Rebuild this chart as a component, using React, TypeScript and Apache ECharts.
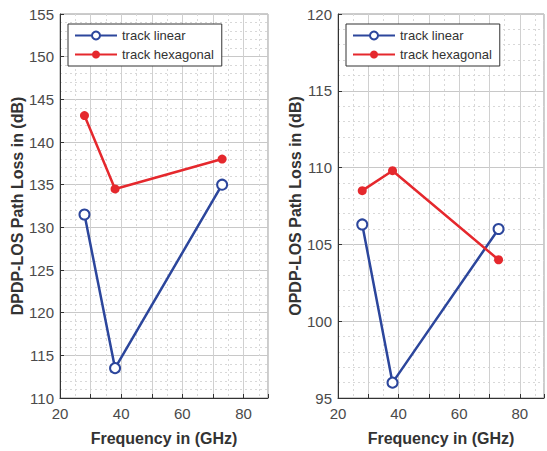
import React, { useEffect, useRef } from "react";
import * as echarts from "echarts";

const freqs = [28, 38, 73];
const leftLinear = [131.5, 113.5, 135];
const leftHex = [143.1, 134.5, 138];
const rightLinear = [106.3, 96, 106];
const rightHex = [108.5, 109.8, 104];
const seriesNames = ["track linear", "track hexagonal"];
const leftYTitle = "DPDP-LOS Path Loss in (dB)";
const rightYTitle = "OPDP-LOS Path Loss in (dB)";
const xTitle = "Frequency in (GHz)";

const BLUE = "#2c469c";
const RED = "#e5282d";

function pairs(xs: number[], ys: number[]) {
  return xs.map((x, i) => [x, ys[i]]);
}

export default function App() {
  const ref = useRef<HTMLDivElement>(null);
  useEffect(() => {
    if (!ref.current) return;
    const chart = echarts.init(ref.current, undefined, { renderer: "svg" });
    const xAxisBase = (gridIndex: number) => ({
      type: "value",
      gridIndex,
      min: 20,
      max: 88,
      interval: 10,
      name: xTitle,
      nameLocation: "middle",
      nameGap: 32,
      nameTextStyle: { fontSize: 16, fontWeight: "bold", color: "#333", fontFamily: "Liberation Sans" },
      axisLine: { show: true, lineStyle: { color: "#333", width: 1 } },
      axisTick: { show: true, inside: true, length: 4, lineStyle: { color: "#333" } },
      axisLabel: {
        fontSize: 15,
        color: "#4a4a4a",
        fontFamily: "Liberation Sans",
        margin: 8,
        formatter: (v: number) => (v % 20 === 0 ? String(v) : ""),
      },
      splitLine: { show: true, lineStyle: { color: "#d0d0d0", width: 1 } },
      minorTick: { show: false, splitNumber: 2 },
      minorSplitLine: { show: true, lineStyle: { color: "#d8d8d8", type: [2, 3], width: 1 } },
    });
    const yAxisBase = (gridIndex: number, min: number, max: number, name: string) => ({
      type: "value",
      gridIndex,
      min,
      max,
      interval: 5,
      name,
      nameLocation: "middle",
      nameGap: 33,
      nameTextStyle: { fontSize: 16, fontWeight: "bold", color: "#333", fontFamily: "Liberation Sans" },
      axisLine: { show: true, lineStyle: { color: "#333", width: 1 } },
      axisTick: { show: true, inside: true, length: 4, lineStyle: { color: "#333" } },
      axisLabel: { fontSize: 15, color: "#4a4a4a", fontFamily: "Liberation Sans", margin: 6 },
      splitLine: { show: true, lineStyle: { color: "#c8c8c8", width: 1 } },
      minorTick: { show: false, splitNumber: 5 },
      minorSplitLine: { show: true, lineStyle: { color: "#d8d8d8", type: [2, 3], width: 1 } },
    });
    const linear = (name: string, xi: number, data: number[][]) => ({
      type: "line",
      name,
      xAxisIndex: xi,
      yAxisIndex: xi,
      data,
      symbol: "emptyCircle",
      symbolSize: 10,
      lineStyle: { color: BLUE, width: 2.5 },
      itemStyle: { color: BLUE, borderColor: BLUE, borderWidth: 2.5 },
    });
    const hex = (name: string, xi: number, data: number[][]) => ({
      type: "line",
      name,
      xAxisIndex: xi,
      yAxisIndex: xi,
      data,
      symbol: "circle",
      symbolSize: 9,
      lineStyle: { color: RED, width: 2.5 },
      itemStyle: { color: RED },
    });
    const legendBase = (left: number) => ({
      left,
      top: 24,
      orient: "vertical",
      data: seriesNames,
      itemWidth: 42,
      itemHeight: 10,
      itemGap: 6,
      padding: [5, 8, 5, 6],
      borderColor: "#333",
      borderWidth: 1,
      backgroundColor: "#fff",
      selectedMode: false,
      textStyle: { fontSize: 13, color: "#333", fontFamily: "Liberation Sans" },
    });
    chart.setOption({
      animation: false,
      backgroundColor: "#fff",
      grid: [
        { left: 60, top: 14, width: 208, height: 384, show: true, borderColor: "#999", borderWidth: 1 },
        { left: 338, top: 14, width: 206, height: 384, show: true, borderColor: "#999", borderWidth: 1 },
      ],
      xAxis: [xAxisBase(0), xAxisBase(1)],
      yAxis: [yAxisBase(0, 110, 155, leftYTitle), yAxisBase(1, 95, 120, rightYTitle)],
      legend: [legendBase(68), legendBase(346)],
      series: [
        linear(seriesNames[0], 0, pairs(freqs, leftLinear)),
        hex(seriesNames[1], 0, pairs(freqs, leftHex)),
        linear(seriesNames[0], 1, pairs(freqs, rightLinear)),
        hex(seriesNames[1], 1, pairs(freqs, rightHex)),
      ],
    });
    return () => chart.dispose();
  }, []);
  return <div ref={ref} style={{ width: 547, height: 451, position: "absolute", left: 0, top: 0 }} />;
}
